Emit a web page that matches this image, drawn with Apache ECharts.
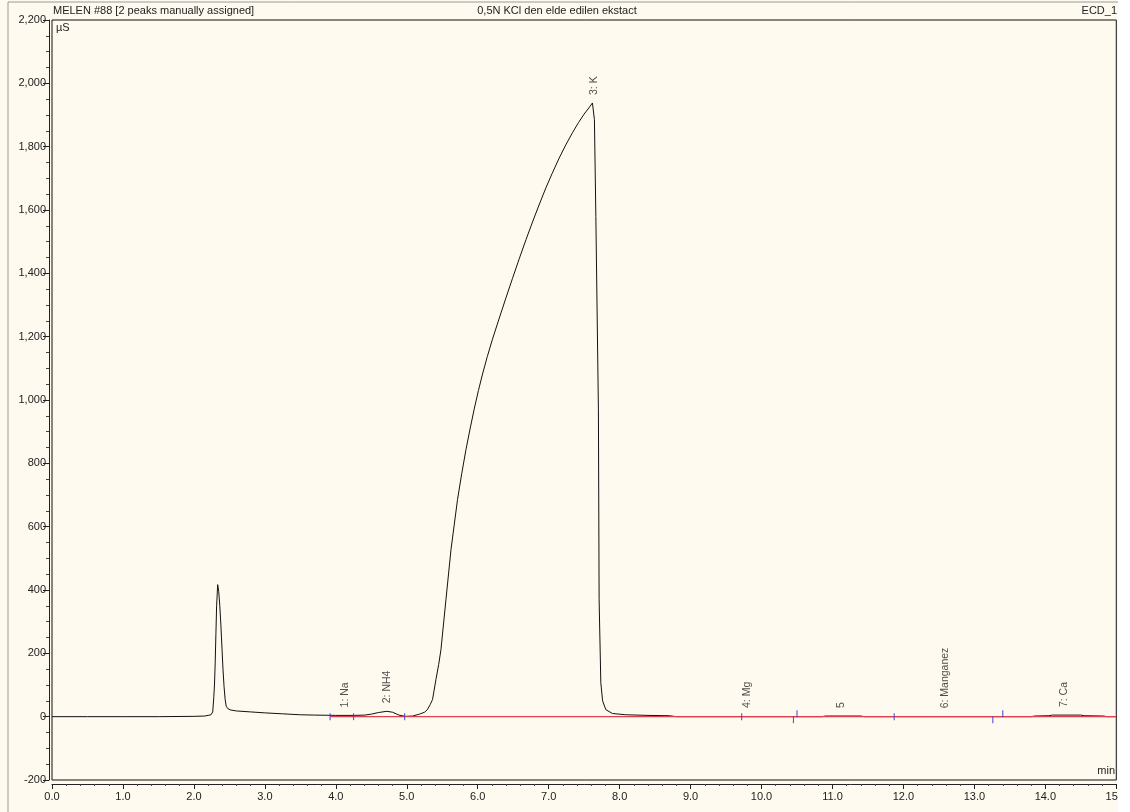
<!DOCTYPE html>
<html>
<head>
<meta charset="utf-8">
<script src="https://cdn.jsdelivr.net/npm/echarts@6/dist/echarts.min.js"></script>
<style>
  html, body { margin: 0; padding: 0; background: #fffaef; }
  #box { width: 1130px; height: 812px; }
</style>
</head>
<body>
<div id="box"></div>
<script>
// chromatogram trace (min, µS)
var traceTime = [0.0, 0.5, 1.0, 1.5, 2.0, 2.15, 2.2, 2.24, 2.265, 2.28, 2.29, 2.3, 2.31, 2.32, 2.335, 2.35, 2.365, 2.38, 2.395, 2.41, 2.425, 2.44, 2.455, 2.48, 2.52, 2.6, 2.8, 3.0, 3.25, 3.5, 3.7, 4.0, 4.26, 4.41, 4.5, 4.6, 4.72, 4.8, 4.89, 4.98, 5.08, 5.18, 5.25, 5.29, 5.33, 5.363, 5.411, 5.45, 5.482, 5.552, 5.623, 5.715, 5.775, 5.834, 5.895, 5.951, 6.01, 6.068, 6.135, 6.208, 6.3, 6.397, 6.49, 6.585, 6.68, 6.772, 6.87, 6.961, 7.05, 7.148, 7.24, 7.335, 7.42, 7.5, 7.565, 7.617, 7.645, 7.665, 7.701, 7.711, 7.735, 7.76, 7.806, 7.9, 8.087, 8.4, 8.7, 8.8, 10.85, 10.9, 11.4, 11.45, 13.8, 13.85, 14.05, 14.1, 14.5, 14.55, 14.82, 14.87, 15.0];
var traceSignal = [0, 0, 0, 0, 1, 2, 4, 6, 15, 60, 100, 170, 260, 350, 417, 395, 350, 290, 220, 150, 95, 55, 33, 25, 21, 18, 15, 12, 9, 6, 5, 4, 4, 5, 8, 13, 17, 14, 5, 1, 2, 8, 14, 22, 38, 54, 117, 165, 212, 369, 527, 685, 768, 843, 912, 972, 1030, 1082, 1137, 1192, 1256, 1322, 1384, 1446, 1506, 1562, 1619, 1670, 1716, 1764, 1805, 1844, 1876, 1903, 1922, 1938, 1885, 1580, 969, 369, 107, 50, 22, 10, 6, 4, 3, 0, 0, 2, 2, 0, 0, 2, 3, 5, 5, 3, 2, 0, 0];

// integration baseline and peak delimiters
var baselineTime = [3.92, 15.0];
var delimTime = [3.92, 4.25, 4.97, 9.72, 10.45, 10.50, 11.87, 13.26, 13.40];
var delimSide = [0, 0, 0, 0, 1, -1, 0, 1, -1];

// peak labels
var peakNames = ["1: Na", "2: NH4", "3: K", "4: Mg", "5", "6: Manganez", "7: Ca"];
var peakTime = [4.13, 4.72, 7.64, 9.79, 11.12, 12.59, 14.26];
var peakHeight = [4, 17, 1938, 2, 2, 1, 5];

var myChart = echarts.init(document.getElementById("box"));

var traceData = traceTime.map(function (t, i) { return [t, traceSignal[i]]; });
var baseData = baselineTime.map(function (t) { return [t, 0]; });
var delimData = delimTime.map(function (t, i) {
  return { value: [t, 0], symbolOffset: [0, delimSide[i] * 3] };
});
var labelData = peakNames.map(function (n, i) {
  return { name: n, value: [peakTime[i], peakHeight[i]] };
});

var fontFam = "Liberation Sans, Arial, sans-serif";

myChart.setOption({
  backgroundColor: "#fffaef",
  animation: false,
  grid: {
    left: 52,
    right: 12,
    top: 20,
    bottom: 32,
    show: true,
    borderColor: "#111",
    borderWidth: 1,
  },
  xAxis: {
    type: "value",
    min: 0,
    max: 15,
    interval: 1,
    offset: 4,
    axisLine: { show: true, onZero: false, lineStyle: { color: "#222", width: 1 } },
    axisTick: { show: true, length: 5, lineStyle: { color: "#222" } },
    minorTick: { show: true, splitNumber: 5, length: 2, lineStyle: { color: "#444" } },
    splitLine: { show: false },
    axisLabel: {
      color: "#222",
      fontSize: 11,
      fontFamily: fontFam,
      margin: 7,
      showMaxLabel: true,
      formatter: function (v) { return v.toFixed(1); },
    },
  },
  yAxis: {
    type: "value",
    min: -200,
    max: 2200,
    interval: 200,
    offset: 3,
    axisLine: { show: true, onZero: false, lineStyle: { color: "#222", width: 1 } },
    axisTick: { show: true, length: 6, lineStyle: { color: "#222" } },
    minorTick: { show: true, splitNumber: 4, length: 3, lineStyle: { color: "#444" } },
    splitLine: { show: false },
    axisLabel: {
      color: "#222",
      fontSize: 11,
      fontFamily: fontFam,
      margin: 3,
      showMaxLabel: true,
      formatter: function (v) { return v.toLocaleString("en-US"); },
    },
  },
  series: [
    {
      type: "line",
      data: traceData,
      showSymbol: false,
      lineStyle: { color: "#111", width: 1 },
      z: 2,
    },
    {
      type: "line",
      data: baseData,
      showSymbol: false,
      lineStyle: { color: "#e0404a", width: 1.2 },
      z: 3,
    },
    {
      type: "scatter",
      data: delimData,
      symbol: "rect",
      symbolSize: [1.2, 7],
      itemStyle: { color: "#3a3ad0" },
      z: 4,
    },
    {
      type: "scatter",
      data: labelData,
      symbolSize: 0,
      z: 5,
      label: {
        show: true,
        formatter: "{b}",
        position: "top",
        distance: 8,
        rotate: 90,
        align: "left",
        verticalAlign: "middle",
        color: "#222",
        fontSize: 10.5,
        fontFamily: fontFam,
      },
    },
  ],
  graphic: [
    { type: "line", shape: { x1: 8, y1: 2, x2: 1130, y2: 2 }, style: { stroke: "#9a9a9a", lineWidth: 1 } },
    { type: "line", shape: { x1: 8, y1: 2, x2: 8, y2: 812 }, style: { stroke: "#9a9a9a", lineWidth: 1 } },
    { type: "text", left: 53, top: 5, style: { text: "MELEN #88 [2 peaks manually assigned]", fontSize: 11, fontFamily: fontFam, fill: "#222" } },
    { type: "text", x: 557, y: 11, style: { text: "0,5N KCl den elde edilen ekstact", fontSize: 11, fontFamily: fontFam, fill: "#222", align: "center", verticalAlign: "middle" } },
    { type: "text", x: 1117, y: 11, style: { text: "ECD_1", fontSize: 11, fontFamily: fontFam, fill: "#222", align: "right", verticalAlign: "middle" } },
    { type: "text", x: 56, y: 28, style: { text: "µS", fontSize: 11, fontFamily: fontFam, fill: "#222", verticalAlign: "middle" } },
    { type: "text", x: 1115, y: 771, style: { text: "min", fontSize: 11, fontFamily: fontFam, fill: "#222", align: "right", verticalAlign: "middle" } },
    { type: "rect", shape: { x: 1118, y: 0, width: 12, height: 812 }, style: { fill: "#ffffff" }, z: 100 },
  ],
});
</script>
</body>
</html>
